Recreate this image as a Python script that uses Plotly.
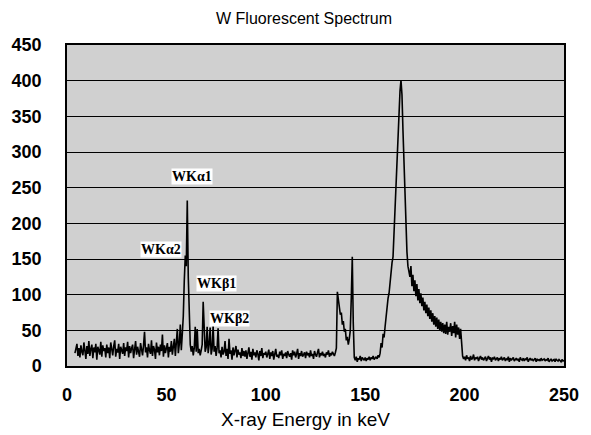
import numpy as np
import plotly.graph_objects as go

# Spectrum counts, 0.5 keV steps, one row per segment start energy
seg_start_keV = [4, 10, 20, 30, 40, 50, 60, 70, 80, 90, 100, 110, 120, 130, 140,
                 150, 160, 170, 180, 190, 200, 210, 220, 230, 240, 250]
seg_counts = [
    [18, 27, 31, 14, 25, 12, 29, 20, 15, 33, 22, 10],
    [28, 17, 35, 14, 24, 30, 11, 26, 19, 31, 9, 27, 22, 16, 34, 13, 29, 21, 25, 12],
    [30, 18, 26, 11, 33, 20, 15, 28, 36, 13, 24, 19, 31, 10, 27, 22, 17, 32, 14, 26],
    [21, 34, 12, 28, 18, 25, 30, 11, 23, 35, 16, 27, 20, 13, 32, 24, 15, 29, 48, 19],
    [26, 12, 31, 22, 17, 36, 14, 28, 23, 10, 33, 19, 27, 15, 30, 21, 44, 13, 29, 18],
    [25, 32, 12, 27, 20, 35, 16, 24, 38, 14, 29, 52, 18, 31, 58, 22, 45, 70, 120, 155],
    [140, 232, 125, 60, 30, 20, 28, 15, 25, 55, 20, 52, 18, 24, 15, 22, 30, 90, 35, 20],
    [26, 55, 18, 30, 54, 16, 24, 56, 20, 28, 14, 25, 53, 18, 22, 12, 27, 16, 20, 35],
    [14, 24, 10, 38, 17, 22, 9, 26, 15, 20, 28, 12, 23, 16, 19, 11, 25, 14, 21, 13],
    [22, 10, 18, 26, 13, 20, 9, 24, 15, 19, 12, 22, 17, 8, 21, 14, 25, 11, 18, 16],
    [20, 12, 17, 23, 10, 19, 14, 21, 9, 18, 24, 13, 16, 11, 20, 15, 22, 10, 17, 14],
    [19, 11, 21, 16, 13, 18, 9, 22, 15, 20, 12, 17, 24, 10, 18, 14, 21, 13, 16, 19],
    [11, 20, 15, 18, 12, 22, 14, 17, 10, 21, 16, 13, 19, 24, 12, 18, 15, 20, 14, 17],
    [12, 19, 16, 22, 13, 18, 15, 20, 17, 14, 19, 25, 104, 92, 86, 72, 75, 58, 63, 48],
    [52, 36, 41, 30, 38, 50, 95, 153, 60, 12, 8, 13, 6, 11, 9, 14, 7, 12, 10, 8],
    [12, 7, 11, 9, 13, 8, 12, 10, 14, 9, 11, 13, 10, 15, 12, 18, 32, 26, 45, 40],
    [55, 70, 85, 95, 102, 118, 135, 145, 153, 190, 215, 242, 280, 320, 359, 385, 401, 380, 330, 289],
    [235, 186, 160, 140, 132, 125, 140, 112, 128, 105, 120, 98, 115, 92, 108, 88, 102, 84, 96, 78],
    [90, 74, 86, 70, 82, 66, 78, 62, 74, 58, 70, 55, 68, 52, 65, 50, 62, 48, 60, 46],
    [58, 45, 62, 44, 55, 48, 60, 42, 56, 46, 62, 40, 58, 44, 54, 38, 52, 30, 14, 10],
    [13, 8, 15, 10, 12, 7, 14, 9, 11, 16, 8, 12, 10, 13, 7, 11, 14, 9, 12, 8],
    [11, 13, 7, 10, 14, 9, 12, 6, 11, 10, 13, 8, 10, 12, 7, 11, 9, 13, 8, 10],
    [12, 7, 10, 9, 13, 6, 11, 8, 10, 12, 7, 9, 11, 8, 10, 6, 12, 9, 8, 11],
    [7, 10, 9, 12, 6, 9, 11, 8, 10, 7, 9, 11, 6, 10, 8, 9, 7, 11, 8, 9],
    [10, 7, 9, 8, 11, 6, 9, 10, 7, 8, 9, 6, 10, 8, 7, 9, 8, 6, 9, 7],
    [8],
]
step_keV = 0.5

y_ticks = [0, 50, 100, 150, 200, 250, 300, 350, 400, 450]
x_ticks = [0, 50, 100, 150, 200, 250]

peak_labels = ["WKα1", "WKα2", "WKβ1", "WKβ2"]
peak_label_keV = [63, 47.5, 75, 81.5]
peak_label_counts = [265, 164, 116, 66]

energies = np.concatenate([s + step_keV * np.arange(len(r)) for s, r in zip(seg_start_keV, seg_counts)])
counts = np.concatenate([np.array(r, dtype=float) for r in seg_counts])

fig = go.Figure()
fig.add_trace(go.Scatter(x=energies, y=counts, mode="lines",
                         line=dict(color="black", width=1.6), showlegend=False))

for t, xk, yc in zip(peak_labels, peak_label_keV, peak_label_counts):
    fig.add_annotation(x=xk, y=yc, text="<b>" + t + "</b>", showarrow=False, bgcolor="white",
                       font=dict(family="Liberation Serif", size=14, color="black"),
                       borderpad=0)

fig.add_annotation(xref="paper", yref="paper", x=0.477, y=1.084, yanchor="middle",
                   xanchor="center", text="W Fluorescent Spectrum", showarrow=False,
                   font=dict(family="Liberation Sans", size=16, color="black"))
fig.add_annotation(xref="paper", yref="paper", x=0.479, y=-0.168, yanchor="middle",
                   xanchor="center", text="X-ray Energy in keV", showarrow=False,
                   font=dict(family="Liberation Sans", size=19, color="black"))

fig.update_layout(
    width=591, height=435,
    margin=dict(l=65, r=23, t=45, b=69),
    paper_bgcolor="white", plot_bgcolor="#d0d0d0",
    font=dict(family="Liberation Sans", color="black"),
)
fig.update_xaxes(range=[0, 250], tickvals=x_ticks, showgrid=False, zeroline=False,
                 showline=True, linecolor="black", linewidth=1.5, mirror=True,
                 ticks="outside", ticklen=12, tickcolor="rgba(0,0,0,0)",
                 tickfont=dict(family="Liberation Sans", size=18, color="black", weight="bold"))
fig.update_yaxes(range=[0, 450], tickvals=y_ticks, showgrid=True, gridcolor="black",
                 gridwidth=1, zeroline=False,
                 showline=True, linecolor="black", linewidth=1.5, mirror=True,
                 ticks="outside", ticklen=20, tickcolor="rgba(0,0,0,0)",
                 tickfont=dict(family="Liberation Sans", size=18, color="black", weight="bold"))

fig.write_html("out.html", config={"displayModeBar": False},
               post_script="document.body.style.margin='0';")
